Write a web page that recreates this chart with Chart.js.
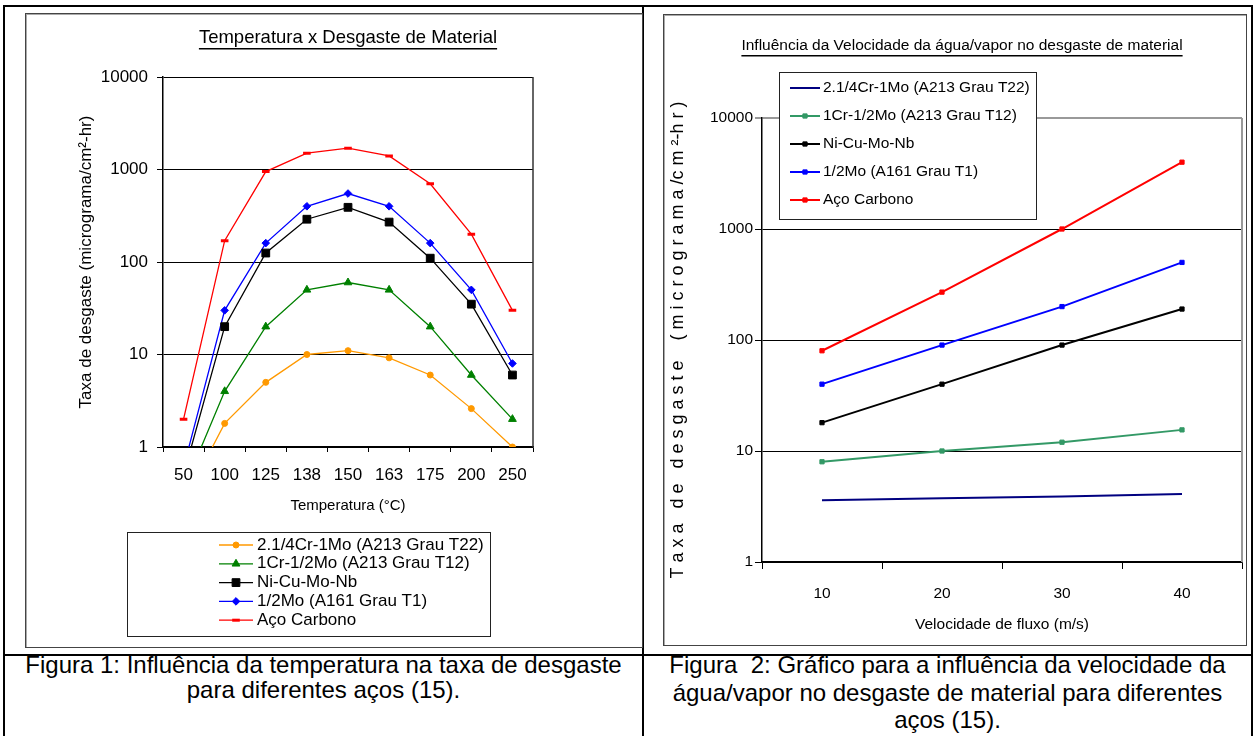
<!DOCTYPE html>
<html>
<head>
<meta charset="utf-8">
<script src="https://cdn.jsdelivr.net/npm/chart.js"></script>
<style>
  body { margin: 0; width: 1255px; height: 736px; background: #fff; position: relative; overflow: hidden; font-family: "Liberation Sans", Arial, sans-serif; }
  .linha { position: absolute; background: #000; }
  .moldura { position: absolute; border: 1px solid #444; box-shadow: inset 1px 1px 0 #aaa; box-sizing: border-box; }
  canvas { position: absolute; }
  .legenda-fig { position: absolute; font-size: 24px; text-align: center; }
</style>
</head>
<body>
<!-- tabela em volta das figuras -->
<div class="linha" style="left:3px;top:5px;width:1250px;height:2px"></div>
<div class="linha" style="left:3px;top:5px;width:2px;height:731px"></div>
<div class="linha" style="left:642px;top:5px;width:2px;height:731px"></div>
<div class="linha" style="left:1251px;top:5px;width:2px;height:731px"></div>
<div class="linha" style="left:3px;top:654px;width:1250px;height:2px"></div>

<div class="moldura" style="left:25px;top:13px;width:618px;height:635px"></div>
<div class="moldura" style="left:663px;top:14px;width:584px;height:632px"></div>

<canvas id="grafTemp" width="616" height="632" style="left:26px;top:14px"></canvas>
<canvas id="grafVel" width="582" height="629" style="left:664px;top:15px"></canvas>

<div class="legenda-fig" style="left:5px;top:652px;width:637px;line-height:25px">Figura 1: Influência da temperatura na taxa de desgaste<br>para diferentes aços (15).</div>
<div class="legenda-fig" style="left:644px;top:651px;width:607px;line-height:27.5px">Figura&nbsp; 2: Gráfico para a influência da velocidade da<br>água/vapor no desgaste de material para diferentes<br>aços (15).</div>

<script>
// Dados - Figura 1 (temperatura)
const temperaturas = ["50", "100", "125", "138", "150", "163", "175", "200", "250"];
const t22Temp = [0.25, 1.8, 5, 10, 11, 9.2, 6, 2.6, 1];
const t12Temp = [0.35, 4, 20, 50, 60, 50, 20, 6, 2];
const nbTemp = [0.5, 20, 125, 290, 390, 270, 110, 35, 6];
const t1Temp = [0.6, 30, 160, 400, 550, 400, 160, 50, 8];
const carbonoTemp = [2, 170, 950, 1500, 1700, 1400, 700, 200, 30];

// Dados - Figura 2 (velocidade)
const velocidades = ["10", "20", "30", "40"];
const t22Vel = [3.6, 3.75, 3.9, 4.1];
const t12Vel = [8, 10, 12, 15.5];
const nbVel = [18, 40, 90, 190];
const t1Vel = [40, 90, 200, 500];
const carbonoVel = [80, 270, 1000, 4000];

const decadas = [1, 10, 100, 1000, 10000];
const nomes = ["2.1/4Cr-1Mo (A213 Grau T22)", "1Cr-1/2Mo (A213 Grau T12)", "Ni-Cu-Mo-Nb", "1/2Mo (A161 Grau T1)", "Aço Carbono"];

const fonte = "'Liberation Sans', Arial, sans-serif";

// titulo sublinhado
const tituloSublinhado = {
  id: "tituloSublinhado",
  afterDraw(chart, args, o) {
    const ctx = chart.ctx;
    const a = chart.chartArea;
    const x = o.x != null ? o.x : (a.left + a.right) / 2;
    ctx.save();
    ctx.font = o.font;
    ctx.fillStyle = "#000";
    ctx.textAlign = "center";
    ctx.textBaseline = "middle";
    ctx.fillText(o.text, x, o.y);
    const w = ctx.measureText(o.text).width;
    ctx.fillRect(x - w / 2, o.y + o.under, w, 1.5);
    ctx.restore();
  }
};

// borda direita da area do grafico
const bordaArea = {
  id: "bordaArea",
  beforeDatasetsDraw(chart, args, o) {
    const { ctx, chartArea: a } = chart;
    ctx.save();
    ctx.strokeStyle = o.color;
    ctx.lineWidth = o.width;
    ctx.beginPath();
    ctx.moveTo(a.right, a.top);
    ctx.lineTo(a.right, a.bottom);
    ctx.stroke();
    ctx.restore();
  }
};

// legenda em caixa, uma serie por linha
const legendaCaixa = {
  id: "legendaCaixa",
  afterDraw(chart, args, o) {
    const ctx = chart.ctx;
    ctx.save();
    ctx.fillStyle = "#fff";
    ctx.fillRect(o.x, o.y, o.w, o.h);
    ctx.strokeStyle = "#222";
    ctx.lineWidth = 1;
    ctx.strokeRect(o.x + 0.5, o.y + 0.5, o.w, o.h);
    ctx.font = o.font;
    ctx.textBaseline = "middle";
    ctx.textAlign = "left";
    chart.data.datasets.forEach((ds, i) => {
      const y = o.y + o.first + i * o.row;
      ctx.strokeStyle = ds.borderColor;
      ctx.lineWidth = ds.borderWidth;
      ctx.beginPath();
      ctx.moveTo(o.sx, y);
      ctx.lineTo(o.sx + o.sw, y);
      ctx.stroke();
      if (ds.pointRadius > 0) {
        ctx.fillStyle = ds.borderColor;
        ctx.lineWidth = ds.pointBorderWidth;
        Chart.helpers.drawPoint(ctx, { pointStyle: ds.pointStyle, radius: ds.pointRadius, borderWidth: ds.pointBorderWidth, rotation: 0 }, o.sx + o.sw / 2, y);
      }
      ctx.fillStyle = "#000";
      ctx.fillText(ds.label, o.tx, y);
    });
    ctx.restore();
  }
};

function serie(label, data, cor, estilo, raio, bw, lw) {
  return {
    label, data,
    borderColor: cor, backgroundColor: cor,
    pointBackgroundColor: cor, pointBorderColor: cor,
    pointStyle: estilo, pointRadius: raio, pointHoverRadius: raio,
    pointBorderWidth: bw, borderWidth: lw, tension: 0, fill: false
  };
}

function eixoLog(tam, tickLen, pad, titulo, tamTitulo, padTitulo, largura, corTopo) {
  return {
    type: "logarithmic",
    min: 1, max: 10000,
    afterBuildTicks: (s) => { s.ticks = decadas.map((v) => ({ value: v })); },
    afterFit: (s) => { s.width = largura; },
    ticks: { color: "#000", font: { family: fonte, size: tam }, padding: pad, callback: (v) => String(v) },
    grid: { color: (c) => (c.tick && c.tick.value === 10000 ? corTopo : "#000"), lineWidth: (c) => (c.tick && c.tick.value === 10000 && corTopo !== "#000" ? 2 : 1), tickLength: tickLen, drawTicks: true },
    border: { color: "#000", width: 1.5 },
    title: { display: true, text: titulo, color: "#000", font: { family: fonte, size: tamTitulo }, padding: { top: padTitulo, bottom: 0 } }
  };
}

function eixoX(tam, tickLen, pad, titulo, tamTitulo, altura) {
  return {
    type: "category",
    offset: true,
    afterFit: (s) => { s.height = altura; },
    ticks: { color: "#000", font: { family: fonte, size: tam }, padding: pad, maxRotation: 0, autoSkip: false },
    grid: { offset: true, drawOnChartArea: false, drawTicks: true, tickLength: tickLen, color: "#000" },
    border: { color: "#000", width: 1.5 },
    title: { display: true, text: titulo, color: "#000", font: { family: fonte, size: tamTitulo }, padding: { top: 4, bottom: 4 } }
  };
}

// Figura 1
new Chart(document.getElementById("grafTemp"), {
  type: "line",
  data: {
    labels: temperaturas,
    datasets: [
      serie(nomes[0], t22Temp, "#ff9900", "circle", 3, 1, 1.3),
      serie(nomes[1], t12Temp, "#008000", "triangle", 4.5, 1, 1.3),
      serie(nomes[2], nbTemp, "#000000", "rect", 5.5, 1, 1.3),
      serie(nomes[3], t1Temp, "#0000ff", "rectRot", 3.8, 1, 1.3),
      serie(nomes[4], carbonoTemp, "#ff0000", "line", 3.8, 3, 1.3)
    ]
  },
  options: {
    responsive: false,
    animation: false,
    layout: { padding: { left: 46, right: 109, top: 63, bottom: 127 } },
    scales: {
      x: eixoX(17, 5, 13, "Temperatura (°C)", 15, 72),
      y: eixoLog(17, 6, 9, "Taxa de desgaste (micrograma/cm²-hr)", 17, 4, 91, "#000")
    },
    plugins: {
      legend: { display: false },
      tooltip: { enabled: false },
      tituloSublinhado: { text: "Temperatura x Desgaste de Material", font: "18.5px " + fonte, y: 24, under: 10 },
      bordaArea: { color: "#333", width: 1.5 },
      legendaCaixa: { x: 101, y: 518, w: 363, h: 104, first: 13, row: 18.8, sx: 193, sw: 34, tx: 231, font: "17px " + fonte }
    }
  },
  plugins: [tituloSublinhado, bordaArea, legendaCaixa]
});

// Figura 2
new Chart(document.getElementById("grafVel"), {
  type: "line",
  data: {
    labels: velocidades,
    datasets: [
      serie(nomes[0], t22Vel, "#000080", "circle", 0, 1, 2),
      serie(nomes[1], t12Vel, "#339966", "rect", 3, 1, 2),
      serie(nomes[2], nbVel, "#000000", "rect", 3, 1, 2),
      serie(nomes[3], t1Vel, "#0000ff", "rect", 3, 1, 2),
      serie(nomes[4], carbonoVel, "#ff0000", "rect", 3, 1, 2)
    ]
  },
  options: {
    responsive: false,
    animation: false,
    layout: { padding: { left: 3, right: 4, top: 103, bottom: 6 } },
    scales: {
      x: eixoX(15.5, 7, 15, "Velocidade de fluxo (m/s)", 15.5, 76),
      y: eixoLog(15.5, 7, 2, "T a x a   d e   d e s g a s t e    ( m i c r o g r a m a /c m ²-h r )", 18, 0, 95, "#999")
    },
    plugins: {
      legend: { display: false },
      tooltip: { enabled: false },
      tituloSublinhado: { text: "Influência da Velocidade da água/vapor no desgaste de material", font: "15.5px " + fonte, x: 298, y: 31, under: 9 },
      bordaArea: { color: "#999", width: 2 },
      legendaCaixa: { x: 115, y: 57, w: 257, h: 147, first: 16, row: 28, sx: 126, sw: 30, tx: 159, font: "15.5px " + fonte }
    }
  },
  plugins: [tituloSublinhado, bordaArea, legendaCaixa]
});
</script>
</body>
</html>
